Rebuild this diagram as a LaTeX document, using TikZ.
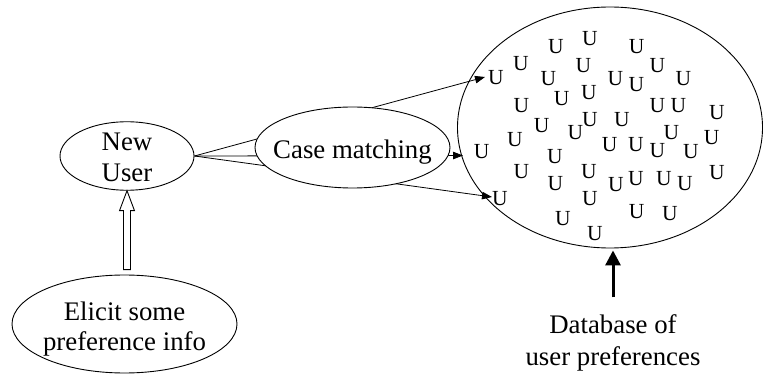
\documentclass[tikz,border=0pt]{standalone}
\usepackage{fontspec}
\setmainfont{Liberation Serif}
\usetikzlibrary{shapes.geometric,arrows.meta,calc}
\begin{document}
\begin{tikzpicture}[x=1pt,y=-1pt,
  oval/.style={ellipse,draw,line width=0.9pt,inner sep=0pt},
  lbl/.style={inner sep=0pt,align=center,font=\fontsize{26.8}{31.5}\selectfont},
  uu/.style={inner sep=0pt,font=\fontsize{21.5}{24}\selectfont},
  conn/.style={line width=0.8pt,-{Triangle[length=10pt,width=7.5pt]}},
  hollow/.style={draw,line width=0.9pt,fill=white},
  bold/.style={line width=3pt,-{Triangle[length=15pt,width=15pt]}}]
\useasboundingbox (0,0) rectangle (763,374);
% New User
\node[oval,minimum width=134pt,minimum height=68.5pt] (nu) at (127,156) {};
\node[lbl] (nut) at (127,157.5) {New\\User};
% Database of users
\node[oval,minimum width=305pt,minimum height=241pt] (db) at (610,127.5) {};
\foreach \x/\y [count=\i] in {556/46.7, 590/39, 636.7/46.7, 521/64, 583.3/65.5, 657.5/66,
  496/78, 548.3/78.7, 615.5/78.7, 636.3/85, 683.3/78.7, 561.7/98.2, 589/92.2,
  521.3/105.5, 657.5/105.5, 678.3/105.5, 717/113, 541.7/125.5, 575.5/133,
  590/119.3, 622/119.3, 515/140, 671.3/132.2, 711.7/138, 481.7/152, 609.7/145,
  636/145, 657.5/151, 691/151.7, 555/156.7, 521.3/171.7, 589/171.7, 615.8/184.2,
  636/178.7, 664/178.7, 685/183.3, 717/173, 555.5/183.3, 500/198.7, 590/198.7,
  563/218.7, 636.7/211.7, 670/213.3, 595/233.3}
  \node[uu] (u\i) at (\x,\y) {U};
% arrows from New User to the database (behind Case matching)
\coordinate (t1) at (485,77);
\coordinate (t2) at (463,155.5);
\coordinate (t3) at (492,197);
\draw[conn] (nu.east) -- (t1);
\draw[conn] (nu.east) -- (t2);
\draw[conn] (nu.east) -- (t3);
% Case matching
\node[oval,fill=white,minimum width=195pt,minimum height=81pt] (cm) at (352.5,147.5) {};
\node[lbl,anchor=base] (cmt) at (352.5,159) {Case matching};
% Elicit
\node[oval,minimum width=225pt,minimum height=98pt] (el) at (124.5,324) {};
\node[lbl,font=\fontsize{26.8}{30}\selectfont] (elt) at (124.5,329) {Elicit some\\preference info};
% hollow arrow
\coordinate (hb) at ($(el.north)+(0,-5)$);
\draw[hollow] (nu.south) -- ++(7.5,20) -- ++(-4,0)
  -- ($(nu.south |- hb)+(3.5,0)$) -- ($(nu.south |- hb)+(-3.5,0)$)
  -- ($(nu.south)+(-3.5,20)$) -- ++(-4,0) -- cycle;
% Database label and bold arrow
\node[lbl,font=\fontsize{26.8}{32}\selectfont] (dbt) at (613,342.8) {Database of\\user preferences};
\draw[bold] ($(dbt.north)+(0,-17)$) -- ($(dbt.north |- db.south)+(0,2)$);
\end{tikzpicture}
\end{document}
